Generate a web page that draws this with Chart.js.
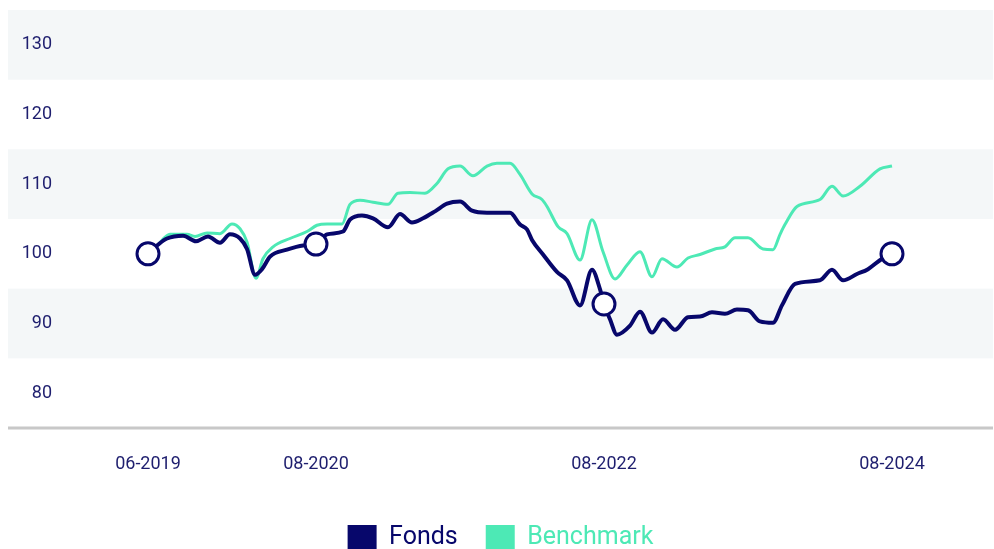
<!DOCTYPE html>
<html>
<head>
<meta charset="utf-8">
<script src="https://cdn.jsdelivr.net/npm/chart.js@4"></script>
<style>
  html, body { margin: 0; padding: 0; background: #fff; overflow: hidden; }
  #wrap { width: 994px; height: 561px; position: relative; }
</style>
</head>
<body>
<div id="wrap"><canvas id="perfChart"></canvas></div>
<script>
// x values are months counted from 06-2019
const fondsMonths = [0, 0.83, 1.58, 2.92, 4.0, 5.0, 6.0, 6.83, 7.67, 8.25, 8.92, 9.5, 10.17, 11.58, 12.92,
  14, 14.92, 16.25, 16.83, 17.83, 18.75, 20.0, 21.0, 22.0, 22.92, 23.92, 24.92, 26.0, 27.0, 28.25,
  30.17, 31.0, 31.58, 32.0, 32.92, 34.08, 34.92, 36.0, 37.0, 37.67, 38, 38.5, 39.08, 40.17, 41.0,
  42.0, 42.92, 43.92, 45.0, 46.0, 47.0, 48.08, 49.08, 50.0, 51.0, 52.08, 52.83, 53.92, 56.0, 57.0,
  57.92, 59.08, 60.0, 61.17, 62];
const fondsValues = [100.0, 101.3, 102.2, 102.6, 101.8, 102.5, 101.6, 102.8, 102.2, 100.7, 97.0, 97.8, 99.6, 100.6, 101.2,
  101.4, 102.8, 103.2, 104.9, 105.5, 105.1, 103.8, 105.7, 104.5, 105.1, 106.1, 107.2, 107.5, 106.2, 105.9,
  105.9, 104.2, 103.5, 102.0, 99.9, 97.4, 96.2, 92.6, 97.7, 94.9, 92.8, 90.6, 88.4, 89.7, 91.7,
  88.7, 90.6, 89.1, 90.9, 91.0, 91.6, 91.4, 92.0, 91.9, 90.3, 90.1, 92.6, 95.7, 96.2, 97.7,
  96.2, 97.1, 97.8, 99.3, 100.0];

const benchMonths = [0, 0.83, 1.83, 3.25, 3.92, 4.92, 6.0, 7.0, 7.67, 8.25, 9.0, 9.58, 10.42, 11.83, 13.25,
  14.08, 14.92, 16.17, 16.83, 17.67, 18.75, 20.0, 20.83, 21.83, 23.08, 24.08, 25.0, 26.0, 27.08, 28.25,
  29.08, 30.17, 31.0, 32.0, 32.83, 33.25, 34.17, 34.92, 36.0, 37.0, 37.92, 38.92, 39.92, 41.0, 42.0,
  42.83, 44.08, 45.0, 46.0, 47.25, 48.08, 48.92, 50.0, 51.25, 52.08, 52.67, 53.08, 54.08, 56.0, 57.0,
  57.92, 59.33, 61.0, 62.0];
const benchValues = [100.0, 101.3, 102.8, 102.8, 102.5, 103.0, 102.9, 104.3, 103.6, 101.7, 96.5, 99.3, 101.0, 102.2, 103.2,
  104.1, 104.3, 104.3, 107.1, 107.7, 107.4, 107.1, 108.7, 108.8, 108.7, 110.1, 112.2, 112.6, 111.2, 112.6,
  113.0, 113.0, 111.4, 108.6, 107.8, 106.8, 103.9, 102.9, 99.1, 104.9, 100.3, 96.4, 98.4, 100.3, 96.7,
  99.3, 98.1, 99.4, 99.9, 100.7, 101.0, 102.3, 102.3, 100.7, 100.6, 102.8, 104.2, 106.8, 107.8, 109.7,
  108.3, 109.7, 112.2, 112.6];

const tickMonths = [0, 14, 38, 62];
const tickLabels = ['06-2019', '08-2020', '08-2022', '08-2024'];
const markerMonths = [0, 14, 38, 62];
const yTicks = [80, 90, 100, 110, 120, 130];
const shadedBands = [[125, 135], [105, 115], [85, 95]];

const NAVY = '#07076b';
const TEAL = '#4de9b5';
const TEXT = '#1e1e6e';

const toPoints = (xs, ys) => xs.map((x, i) => ({ x: x, y: ys[i] }));

// striped background and the base line, both run under the y labels too
const bandsPlugin = {
  id: 'bands',
  beforeDraw(chart) {
    const { ctx, chartArea, scales } = chart;
    const left = 8;
    ctx.save();
    ctx.fillStyle = '#f4f7f8';
    shadedBands.forEach(([lo, hi]) => {
      const top = scales.y.getPixelForValue(hi);
      const bottom = scales.y.getPixelForValue(lo);
      ctx.fillRect(left, top, chartArea.right - left, bottom - top);
    });
    ctx.strokeStyle = '#c8c8c8';
    ctx.lineWidth = 3;
    ctx.beginPath();
    ctx.moveTo(left, chartArea.bottom);
    ctx.lineTo(chartArea.right, chartArea.bottom);
    ctx.stroke();
    ctx.restore();
  }
};

new Chart(document.getElementById('perfChart'), {
  type: 'line',
  data: {
    datasets: [
      {
        label: 'Fonds',
        data: toPoints(fondsMonths, fondsValues),
        borderColor: NAVY,
        backgroundColor: NAVY,
        borderWidth: 4,
        cubicInterpolationMode: 'monotone',
        pointRadius: ctx => markerMonths.includes(fondsMonths[ctx.dataIndex]) ? 11 : 0,
        pointHoverRadius: ctx => markerMonths.includes(fondsMonths[ctx.dataIndex]) ? 11 : 0,
        pointBackgroundColor: '#ffffff',
        pointBorderColor: NAVY,
        pointBorderWidth: 3
      },
      {
        label: 'Benchmark',
        data: toPoints(benchMonths, benchValues),
        borderColor: TEAL,
        backgroundColor: TEAL,
        borderWidth: 3,
        cubicInterpolationMode: 'monotone',
        pointRadius: 0,
        pointHoverRadius: 0
      }
    ]
  },
  options: {
    responsive: true,
    maintainAspectRatio: false,
    animation: false,
    layout: { autoPadding: false, padding: { top: 10, left: 8, right: 1, bottom: 0 } },
    scales: {
      x: {
        type: 'linear',
        min: -7.1667,
        max: 70.4167,
        grid: { display: false, drawTicks: false },
        border: { display: false },
        afterBuildTicks: s => { s.ticks = tickMonths.map(v => ({ value: v })); },
        afterFit: s => { s.height = 69; s.paddingLeft = 0; s.paddingRight = 0; },
        ticks: {
          autoSkip: false,
          maxRotation: 0,
          padding: 26,
          color: TEXT,
          font: { family: 'Roboto', size: 18 },
          callback: v => tickLabels[tickMonths.indexOf(v)]
        }
      },
      y: {
        min: 75,
        max: 135,
        grid: { display: false, drawTicks: false },
        border: { display: false },
        afterBuildTicks: s => { s.ticks = yTicks.map(v => ({ value: v })); },
        afterFit: s => { s.width = 54; s.paddingTop = 0; s.paddingBottom = 0; },
        ticks: {
          padding: 10,
          color: TEXT,
          font: { family: 'Roboto', size: 18 }
        }
      }
    },
    plugins: {
      tooltip: { enabled: false },
      legend: {
        position: 'bottom',
        labels: {
          boxWidth: 29,
          boxHeight: 26,
          padding: 28,
          font: { family: 'Roboto', size: 25 },
          generateLabels: chart => {
            const items = Chart.defaults.plugins.legend.labels.generateLabels(chart);
            items.forEach(it => {
              it.fontColor = it.strokeStyle;
              it.lineWidth = 0;
            });
            return items;
          }
        }
      }
    }
  },
  plugins: [bandsPlugin]
});
</script>
</body>
</html>
